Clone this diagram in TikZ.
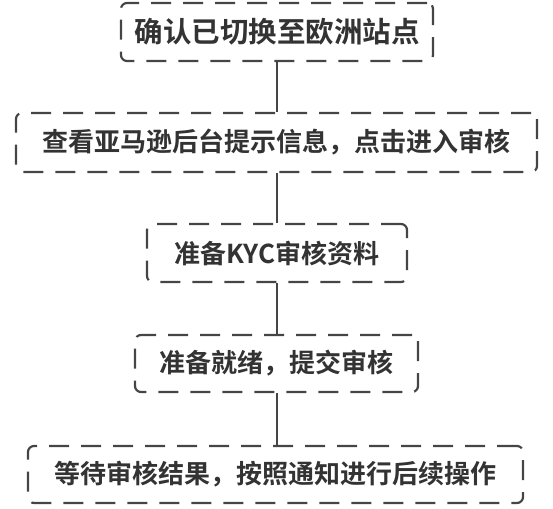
\documentclass[tikz,border=0pt]{standalone}
\usepackage{fontspec}
\usepackage{tikz}
\usepackage{xcolor}
\usetikzlibrary{
    calc,
    positioning
}
\newfontfamily\cjk{Noto Sans CJK SC}[BoldFont={* Bold}]
\definecolor{edgegray}{HTML}{454545}
\definecolor{textgray}{HTML}{333333}

\begin{document}
\begin{tikzpicture}[x=1pt, y=-1pt,
    stagebox/.style={draw=edgegray, line width=2.2pt, dash pattern=on 20pt off 12pt,
        rounded corners=6pt, inner sep=0pt, text=textgray,
        font=\cjk\bfseries\fontsize{26}{30}\selectfont},
    link/.style={draw=edgegray, line width=2.4pt}]
                                \useasboundingbox (0, 0) rectangle (553, 508);
                                \node[stagebox, minimum width=312pt, minimum height=58pt,
                                    font=\cjk\bfseries\fontsize{28.5}{32}\selectfont] (confirm) at (277, 32) {确认已切换至欧洲站点};
                                \node[stagebox, minimum width=521pt, minimum height=59pt] (notice) at (276.5, 142.5) {查看亚马逊后台提示信息，点击进入审核};
                                \node[stagebox, minimum width=260pt, minimum height=58pt] (kyc) at (277, 253) {准备KYC审核资料};
                                \node[stagebox, minimum width=283pt, minimum height=57pt] (submit) at (276.5, 363.5) {准备就绪，提交审核};
                                \node[stagebox, minimum width=495pt, minimum height=57pt] (wait) at (275.5, 474.5) {等待审核结果，按照通知进行后续操作};
                                \draw[link]
                                (confirm.south) -- (confirm.south |- notice.north)
                                (confirm.south |- notice.south) -- (confirm.south |- kyc.north)
                                (kyc.south) -- (kyc.south |- submit.north)
                                (kyc.south |- submit.south) -- (kyc.south |- wait.north);
                            \end{tikzpicture}
\end{document}
